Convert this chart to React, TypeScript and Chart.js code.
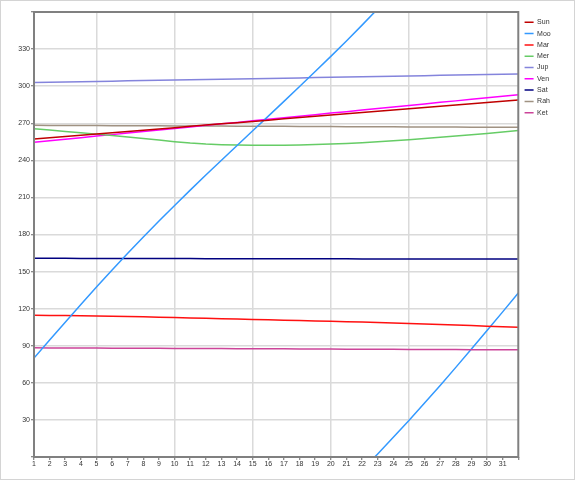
import React, { useEffect, useRef } from "react";
import { Chart, registerables } from "chart.js";

Chart.register(...registerables);

// Day of month (x axis: 1..32, labels 1..31)
const days = [1, 2, 3, 4, 5, 6, 7, 8, 9, 10, 11, 12, 13, 14, 15, 16, 17, 18, 19, 20, 21, 22, 23, 24, 25, 26, 27, 28, 29, 30, 31, 32];

// Longitudes in degrees (0..360)
const sun = [257.3, 258.3, 259.3, 260.3, 261.4, 262.4, 263.4, 264.4, 265.4, 266.4, 267.5, 268.5, 269.5, 270.5, 271.5, 272.5, 273.6, 274.6, 275.6, 276.6, 277.6, 278.6, 279.7, 280.7, 281.7, 282.7, 283.7, 284.7, 285.8, 286.8, 287.8, 288.8];
const moon = [80.0, 94.6, 109.1, 123.4, 137.5, 151.3, 164.8, 178.0, 190.9, 203.5, 215.9, 228.1, 240.1, 252.0, 263.9, 275.8, 287.7, 299.7, 311.8, 324.1, 336.6, 349.4, 2.5, 15.9, 29.6, 43.6, 57.9, 72.5, 87.3, 102.3, 117.4, 132.6];
const mars = [114.6, 114.5, 114.4, 114.3, 114.1, 113.9, 113.6, 113.4, 113.1, 112.8, 112.5, 112.2, 111.9, 111.6, 111.3, 111.0, 110.7, 110.4, 110.1, 109.8, 109.5, 109.2, 108.8, 108.4, 108.0, 107.6, 107.2, 106.7, 106.3, 105.8, 105.4, 104.9];
const mercury = [265.6, 264.5, 263.4, 262.3, 261.2, 260.1, 258.9, 257.7, 256.4, 255.1, 254.0, 253.2, 252.7, 252.4, 252.2, 252.2, 252.3, 252.5, 252.8, 253.2, 253.7, 254.3, 255.0, 255.8, 256.7, 257.6, 258.6, 259.6, 260.7, 261.8, 263.0, 264.2];
const jupiter = [302.9, 303.1, 303.4, 303.6, 303.8, 304.0, 304.3, 304.5, 304.7, 304.9, 305.2, 305.4, 305.6, 305.8, 306.1, 306.3, 306.5, 306.7, 307.0, 307.2, 307.4, 307.6, 307.9, 308.1, 308.3, 308.5, 308.8, 309.0, 309.2, 309.4, 309.7, 309.9];
const venus = [254.6, 255.8, 257.1, 258.3, 259.6, 260.8, 262.1, 263.3, 264.5, 265.8, 267.0, 268.3, 269.5, 270.7, 272.0, 273.2, 274.5, 275.7, 276.9, 278.2, 279.4, 280.7, 281.9, 283.2, 284.4, 285.6, 286.9, 288.1, 289.4, 290.6, 291.8, 293.1];
const saturn = [160.7, 160.7, 160.7, 160.6, 160.6, 160.6, 160.6, 160.5, 160.5, 160.5, 160.5, 160.4, 160.4, 160.4, 160.4, 160.4, 160.3, 160.3, 160.3, 160.3, 160.3, 160.2, 160.2, 160.2, 160.2, 160.2, 160.2, 160.1, 160.1, 160.1, 160.1, 160.1];
const rahu = [268.3, 268.2, 268.2, 268.1, 268.1, 268.0, 268.0, 267.9, 267.9, 267.8, 267.8, 267.7, 267.7, 267.6, 267.6, 267.5, 267.5, 267.4, 267.4, 267.3, 267.2, 267.2, 267.1, 267.1, 267.0, 267.0, 266.9, 266.9, 266.8, 266.8, 266.7, 266.7];
const ketu = [88.3, 88.2, 88.2, 88.1, 88.1, 88.0, 88.0, 87.9, 87.9, 87.8, 87.8, 87.7, 87.7, 87.6, 87.6, 87.5, 87.5, 87.4, 87.4, 87.3, 87.2, 87.2, 87.1, 87.1, 87.0, 87.0, 86.9, 86.9, 86.8, 86.8, 86.7, 86.7];

const seriesNames = ["Sun", "Moo", "Mar", "Mer", "Jup", "Ven", "Sat", "Rah", "Ket"];
const seriesColors = ["#c00000", "#3399ff", "#ff1010", "#66cc66", "#8484dc", "#ff00ff", "#000080", "#a09282", "#cc4499"];

const FONT = "'Liberation Sans', Arial, sans-serif";
const TRANSPARENT = "rgba(0,0,0,0)";

const framePlugin = {
  id: "frame",
  afterDatasetsDraw(chart: any) {
    const { ctx, chartArea: a } = chart;
    ctx.save();
    ctx.strokeStyle = "#808080";
    ctx.lineWidth = 2;
    ctx.strokeRect(a.left, a.top, a.right - a.left, a.bottom - a.top);
    ctx.restore();
  },
};

export default function App() {
  const ref = useRef<HTMLCanvasElement>(null);

  useEffect(() => {
    document.body.style.margin = "0";
    const canvas = ref.current;
    if (!canvas) return;

    const pts = (arr: number[]) => arr.map((v, i) => ({ x: days[i], y: v }));

    // unwrap the moon's longitude so the line runs continuously past 360
    const moonUnwrapped: number[] = [];
    let off = 0;
    moon.forEach((v, i) => {
      if (i > 0 && v + off < moonUnwrapped[i - 1] - 180) off += 360;
      moonUnwrapped.push(v + off);
    });
    const moonWrapped = moonUnwrapped.map((v) => v - 360);

    const all = [sun, moonUnwrapped, mars, mercury, jupiter, venus, saturn, rahu, ketu];
    const datasets: any[] = all.map((arr, i) => ({
      label: seriesNames[i],
      data: pts(arr),
      borderColor: seriesColors[i],
      backgroundColor: seriesColors[i],
      borderWidth: 1.5,
      pointRadius: 0,
      tension: 0,
      yAxisID: "y",
    }));
    datasets.push({
      label: "Moo",
      data: pts(moonWrapped),
      borderColor: seriesColors[1],
      backgroundColor: seriesColors[1],
      borderWidth: 1.5,
      pointRadius: 0,
      tension: 0,
      yAxisID: "y",
    });

    const chart = new Chart(canvas, {
      type: "line",
      data: { datasets },
      plugins: [framePlugin],
      options: {
        responsive: false,
        animation: false,
        events: [],
        layout: { padding: { top: 11, right: 13.3, bottom: 0, left: 0 } },
        scales: {
          x: {
            type: "linear",
            min: 1,
            max: 32,
            border: { display: false },
            grid: {
              color: (c: any) => (c.tick && c.tick.value % 5 === 0 ? "#dadada" : TRANSPARENT),
              lineWidth: 1.5,
              tickColor: "#666",
              tickLength: 3,
              tickWidth: 1,
            },
            ticks: {
              stepSize: 1,
              autoSkip: false,
              maxRotation: 0,
              padding: 0,
              color: "#333",
              font: { family: FONT, size: 7 },
              callback: (v: any) => (v <= 31 ? String(v) : ""),
            },
            afterFit: (s: any) => {
              s.height = 22;
            },
          },
          y: {
            type: "linear",
            min: 0,
            max: 360,
            border: { display: false },
            grid: {
              color: (c: any) =>
                c.tick && (c.tick.value === 0 || c.tick.value === 360) ? TRANSPARENT : "#dadada",
              lineWidth: 1.5,
              tickColor: "#666",
              tickLength: 3,
              tickWidth: 1,
            },
            ticks: {
              stepSize: 30,
              padding: 1,
              color: "#333",
              font: { family: FONT, size: 7 },
              callback: (v: any) => (v === 0 || v === 360 ? "" : String(v)),
            },
            afterFit: (s: any) => {
              s.width = 33;
            },
          },
          gap: {
            type: "linear",
            position: "right",
            display: true,
            border: { display: false },
            grid: { display: false, drawTicks: false },
            ticks: { display: false },
            afterFit: (s: any) => {
              s.width = 2;
            },
          },
        },
        plugins: {
          tooltip: { enabled: false },
          legend: {
            position: "right",
            align: "start",
            title: { display: true, text: "", padding: 0, font: { size: 7, lineHeight: "2.5px" } },
            labels: {
              usePointStyle: true,
              pointStyle: "line",
              pointStyleWidth: 9,
              padding: 4.3,
              color: "#333",
              font: { family: FONT, size: 7 },
              filter: (item: any) => item.datasetIndex < 9,
            },
          },
        },
      },
    } as any);

    return () => chart.destroy();
  }, []);

  return (
    <div
      style={{
        width: 575,
        height: 480,
        border: "1px solid #d4d4d4",
        boxSizing: "border-box",
        background: "#fff",
      }}
    >
      <canvas ref={ref} width={573} height={478} style={{ display: "block" }} />
    </div>
  );
}
